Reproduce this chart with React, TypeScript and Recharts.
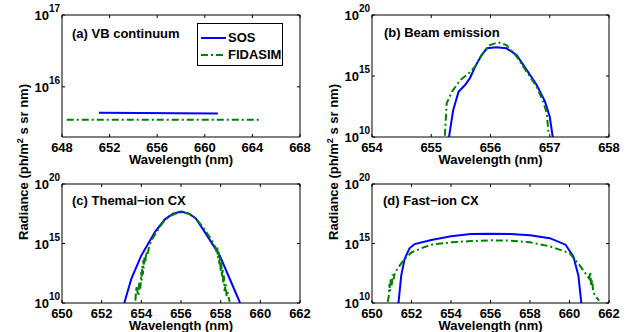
import { Legend, Line, LineChart, XAxis, YAxis } from "recharts";

// All radiance values are log10(ph/m^2 s sr nm).
const BLUE = "#0000ff";
const GREEN = "#008000";

// (a) VB continuum
const A_SOS_X = [651.1, 661.1];
const A_SOS_Y = [15.64, 15.63];
const A_FIDA_X = [648.4, 664.8];
const A_FIDA_Y = [15.54, 15.54];
const A_X_TICKS = [648, 652, 656, 660, 664, 668];
const A_Y_TICKS = [16, 17];

// (b) Beam emission
const B_SOS_X = [655.3, 655.37, 655.46, 655.57, 655.65, 655.74, 655.85, 655.94, 656.1, 656.27, 656.44, 656.61, 656.78, 656.92, 657.0, 657.05];
const B_SOS_Y = [10.0, 12.2, 13.7, 14.26, 14.8, 15.76, 16.72, 17.27, 17.35, 17.27, 16.72, 15.5, 14.26, 12.9, 11.66, 10.0];
const B_FIDA_X = [655.23, 655.26, 655.35, 655.49, 655.63, 655.74, 655.85, 655.99, 656.13, 656.27, 656.44, 656.61, 656.78, 656.89, 656.95, 656.98];
const B_FIDA_Y = [10.1, 12.76, 13.72, 14.67, 15.2, 15.76, 16.72, 17.54, 17.76, 17.54, 16.6, 15.36, 14.1, 12.9, 11.94, 10.3];
const B_X_TICKS = [654, 655, 656, 657, 658];

// (c) Thermal-ion CX
const C_SOS_X = [653.14, 653.5, 654.0, 654.7, 655.2, 655.6, 656.0, 656.4, 656.75, 657.3, 657.95, 658.45, 658.98];
const C_SOS_Y = [10.0, 12.06, 14.0, 16.0, 17.05, 17.5, 17.68, 17.5, 17.1, 15.7, 14.0, 12.06, 10.0];
const C_FIDA_X = [653.7, 653.75, 653.8, 653.85, 653.9, 653.95, 654.0, 654.02, 654.05, 654.08, 654.1, 654.13, 654.16, 654.2, 654.25, 654.3, 654.4, 654.5, 654.6, 654.75, 654.9, 655.1, 655.3, 655.5, 655.7, 655.9, 656.1, 656.3, 656.5, 656.7, 656.9, 657.1, 657.3, 657.5, 657.65, 657.75, 657.8, 657.83, 657.86, 657.9, 657.93, 657.96, 658.0, 658.03, 658.06, 658.1, 658.13, 658.16, 658.2, 658.25, 658.3, 658.35, 658.45];
const C_FIDA_Y = [10.2, 11.4, 11.0, 10.6, 11.8, 11.2, 12.6, 11.9, 13.1, 12.4, 13.6, 12.9, 13.9, 13.4, 14.3, 14.0, 14.8, 15.2, 15.5, 15.9, 16.3, 16.8, 17.1, 17.35, 17.5, 17.6, 17.62, 17.55, 17.4, 17.15, 16.8, 16.4, 15.9, 15.4, 15.0, 14.6, 14.2, 14.7, 13.8, 14.3, 13.2, 13.9, 12.7, 13.4, 12.2, 12.9, 11.6, 12.3, 11.0, 11.6, 10.6, 10.9, 10.1];
const CD_X_TICKS = [650, 652, 654, 656, 658, 660, 662];
const LOG_TICKS = [10, 15, 20];

// (d) Fast-ion CX
const D_SOS_X = [651.34, 651.48, 651.65, 651.9, 652.16, 653.0, 654.0, 655.0, 656.0, 657.0, 658.0, 659.0, 659.8, 660.2, 660.45, 660.6];
const D_SOS_Y = [10.0, 12.3, 13.7, 14.6, 14.95, 15.3, 15.6, 15.8, 15.82, 15.8, 15.7, 15.45, 14.9, 13.9, 12.3, 10.0];
const D_FIDA_X = [650.8, 650.85, 650.88, 650.92, 650.95, 651.0, 651.05, 651.1, 651.15, 651.3, 651.6, 652.0, 652.5, 653.0, 654.0, 655.0, 656.0, 657.0, 658.0, 659.0, 660.0, 660.5, 661.0, 661.05, 661.1, 661.15, 661.2, 661.3, 661.4, 661.5];
const D_FIDA_Y = [10.1, 10.6, 11.6, 11.0, 12.1, 11.5, 12.4, 12.0, 12.5, 12.9, 13.6, 14.25, 14.6, 14.9, 15.1, 15.2, 15.27, 15.24, 15.1, 14.76, 14.2, 13.2, 12.05, 12.6, 11.5, 11.9, 10.9, 10.6, 10.4, 10.2];

const FONT = "'Liberation Sans', Arial, Helvetica, sans-serif";
const W = 633;
const H = 332;
const FS = 13;
// sizes reserved for the axes inside each chart's margins
const AX_B = 18;
const AX_T = 4;
const AX_L = 30;
const AX_R = 4;

type Box = { left: number; top: number; right: number; bottom: number };
type Series = { name: string; xs: number[]; ys: number[]; color: string; dash?: string; width: number };

const toRows = (xs: number[], ys: number[]) => xs.map((x, i) => ({ x, y: ys[i] }));

const sos = (xs: number[], ys: number[]): Series => ({ name: "SOS", xs, ys, color: BLUE, width: 2 });
const fida = (xs: number[], ys: number[]): Series => ({
  name: "FIDASIM",
  xs,
  ys,
  color: GREEN,
  dash: "7 3 2 3",
  width: 2,
});

function BottomTick(props: any) {
  const { x, y, payload } = props;
  return (
    <g>
      <line x1={x} y1={y} x2={x} y2={y - 3} stroke="#000" />
      <text x={x} y={y + 15} textAnchor="middle" fontSize={FS} fontWeight="bold" fill="#000" fontFamily={FONT}>
        {payload.value}
      </text>
    </g>
  );
}

function TopTick(props: any) {
  const { x, y } = props;
  return <line x1={x} y1={y} x2={x} y2={y + 3} stroke="#000" />;
}

function LeftTick(props: any) {
  const { x, y, payload } = props;
  return (
    <g>
      <line x1={x} y1={y} x2={x + 3} y2={y} stroke="#000" />
      <text x={x - 2} y={y + 5} textAnchor="end" fontSize={FS} fontWeight="bold" fill="#000" fontFamily={FONT}>
        10
        <tspan dy={-8} fontSize={10}>
          {payload.value}
        </tspan>
      </text>
    </g>
  );
}

function RightTick(props: any) {
  const { x, y } = props;
  return <line x1={x} y1={y} x2={x - 3} y2={y} stroke="#000" />;
}

function LegendBox() {
  return (
    <div
      style={{
        border: "1px solid #000",
        background: "#fff",
        width: 86,
        height: 43,
        boxSizing: "border-box",
        fontFamily: FONT,
        fontWeight: "bold",
        fontSize: FS,
        padding: "5px 0 0 3px",
      }}
    >
      {[
        { label: "SOS", color: BLUE, dash: undefined },
        { label: "FIDASIM", color: GREEN, dash: "7 3 2 3" },
      ].map((e) => (
        <div key={e.label} style={{ display: "flex", alignItems: "center", height: 17 }}>
          <svg width={25} height={8} style={{ marginRight: 2 }}>
            <line x1={0} y1={4} x2={25} y2={4} stroke={e.color} strokeWidth={2} strokeDasharray={e.dash} />
          </svg>
          <span>{e.label}</span>
        </div>
      ))}
    </div>
  );
}

const axisCommon = {
  type: "number" as const,
  tickSize: 0,
  tickMargin: 0,
  tickLine: false,
  stroke: "#000",
  interval: 0 as const,
  allowDataOverflow: true,
};

function Panel({
  box,
  xDomain,
  xTicks,
  yDomain,
  yTicks,
  series,
  legend,
}: {
  box: Box;
  xDomain: [number, number];
  xTicks: number[];
  yDomain: [number, number];
  yTicks: number[];
  series: Series[];
  legend?: boolean;
}) {
  return (
    <div style={{ position: "absolute", left: 0, top: 0 }}>
      <LineChart
        width={W}
        height={H}
        margin={{
          left: box.left - AX_L,
          top: box.top - AX_T,
          right: W - box.right - AX_R,
          bottom: H - box.bottom - AX_B,
        }}
      >
        <XAxis
          {...axisCommon}
          xAxisId="b"
          dataKey="x"
          domain={xDomain}
          ticks={xTicks}
          height={AX_B}
          tick={<BottomTick />}
        />
        <XAxis
          {...axisCommon}
          xAxisId="t"
          orientation="top"
          dataKey="x"
          domain={xDomain}
          ticks={xTicks}
          height={AX_T}
          tick={<TopTick />}
        />
        <YAxis
          {...axisCommon}
          yAxisId="l"
          domain={yDomain}
          ticks={yTicks}
          width={AX_L}
          tick={<LeftTick />}
        />
        <YAxis
          {...axisCommon}
          yAxisId="r"
          orientation="right"
          domain={yDomain}
          ticks={yTicks}
          width={AX_R}
          tick={<RightTick />}
        />
        {series.map((s) => (
          <Line
            key={s.name}
            xAxisId="b"
            yAxisId="l"
            data={toRows(s.xs, s.ys)}
            dataKey="y"
            name={s.name}
            type="linear"
            stroke={s.color}
            strokeWidth={s.width}
            strokeDasharray={s.dash}
            dot={false}
            isAnimationActive={false}
          />
        ))}
        {legend && (
          <Legend
            layout="vertical"
            align="center"
            verticalAlign="middle"
            wrapperStyle={{ left: 197, top: 23, width: 86 }}
            content={() => <LegendBox />}
          />
        )}
      </LineChart>
    </div>
  );
}

const BOX_A: Box = { left: 62, top: 15, right: 300, bottom: 137 };
const BOX_B: Box = { left: 372, top: 15, right: 609, bottom: 137 };
const BOX_C: Box = { left: 62, top: 184, right: 300, bottom: 303 };
const BOX_D: Box = { left: 372, top: 184, right: 609, bottom: 303 };

function YLabel({ x }: { x: number }) {
  return (
    <text
      transform={`translate(${x},162) rotate(-90)`}
      textAnchor="middle"
      fontSize={FS}
      fontWeight="bold"
      fontFamily={FONT}
      fill="#000"
    >
      Radiance (ph/m
      <tspan dy={-5} fontSize={9}>
        2
      </tspan>
      <tspan dy={5}> s sr nm)</tspan>
    </text>
  );
}

function XLabel({ box }: { box: Box }) {
  return (
    <text
      x={(box.left + box.right) / 2}
      y={Math.min(box.bottom + 27, H - 2)}
      textAnchor="middle"
      fontSize={FS}
      fontWeight="bold"
      fontFamily={FONT}
      fill="#000"
    >
      Wavelength (nm)
    </text>
  );
}

function Title({ x, y, text }: { x: number; y: number; text: string }) {
  return (
    <text x={x} y={y} fontSize={FS} fontWeight="bold" fontFamily={FONT} fill="#000">
      {text}
    </text>
  );
}

export default function App() {
  return (
    <div
      style={{
        position: "absolute",
        left: 0,
        top: 0,
        width: W,
        height: H,
        background: "#fff",
        overflow: "hidden",
        fontFamily: FONT,
      }}
    >
      <svg width={W} height={H} style={{ position: "absolute", left: 0, top: 0 }}>
        <YLabel x={28} />
        <YLabel x={338} />
      </svg>
      <Panel
        box={BOX_C}
        xDomain={[650, 662]}
        xTicks={CD_X_TICKS}
        yDomain={[10, 20]}
        yTicks={LOG_TICKS}
        series={[sos(C_SOS_X, C_SOS_Y), fida(C_FIDA_X, C_FIDA_Y)]}
      />
      <Panel
        box={BOX_D}
        xDomain={[650, 662]}
        xTicks={CD_X_TICKS}
        yDomain={[10, 20]}
        yTicks={LOG_TICKS}
        series={[sos(D_SOS_X, D_SOS_Y), fida(D_FIDA_X, D_FIDA_Y)]}
      />
      <Panel
        box={BOX_B}
        xDomain={[654, 658]}
        xTicks={B_X_TICKS}
        yDomain={[10, 20]}
        yTicks={LOG_TICKS}
        series={[sos(B_SOS_X, B_SOS_Y), fida(B_FIDA_X, B_FIDA_Y)]}
      />
      <Panel
        box={BOX_A}
        xDomain={[648, 668]}
        xTicks={A_X_TICKS}
        yDomain={[Math.log10(2e15), 17]}
        yTicks={A_Y_TICKS}
        series={[sos(A_SOS_X, A_SOS_Y), fida(A_FIDA_X, A_FIDA_Y)]}
        legend
      />
      <svg width={W} height={H} style={{ position: "absolute", left: 0, top: 0, pointerEvents: "none" }}>
        <Title x={72} y={38} text="(a) VB continuum" />
        <Title x={384} y={37} text="(b) Beam emission" />
        <Title x={72} y={205} text="(c) Themal−ion CX" />
        <Title x={383} y={205} text="(d) Fast−ion CX" />
        <XLabel box={BOX_A} />
        <XLabel box={BOX_B} />
        <XLabel box={BOX_C} />
        <XLabel box={BOX_D} />
      </svg>
    </div>
  );
}
